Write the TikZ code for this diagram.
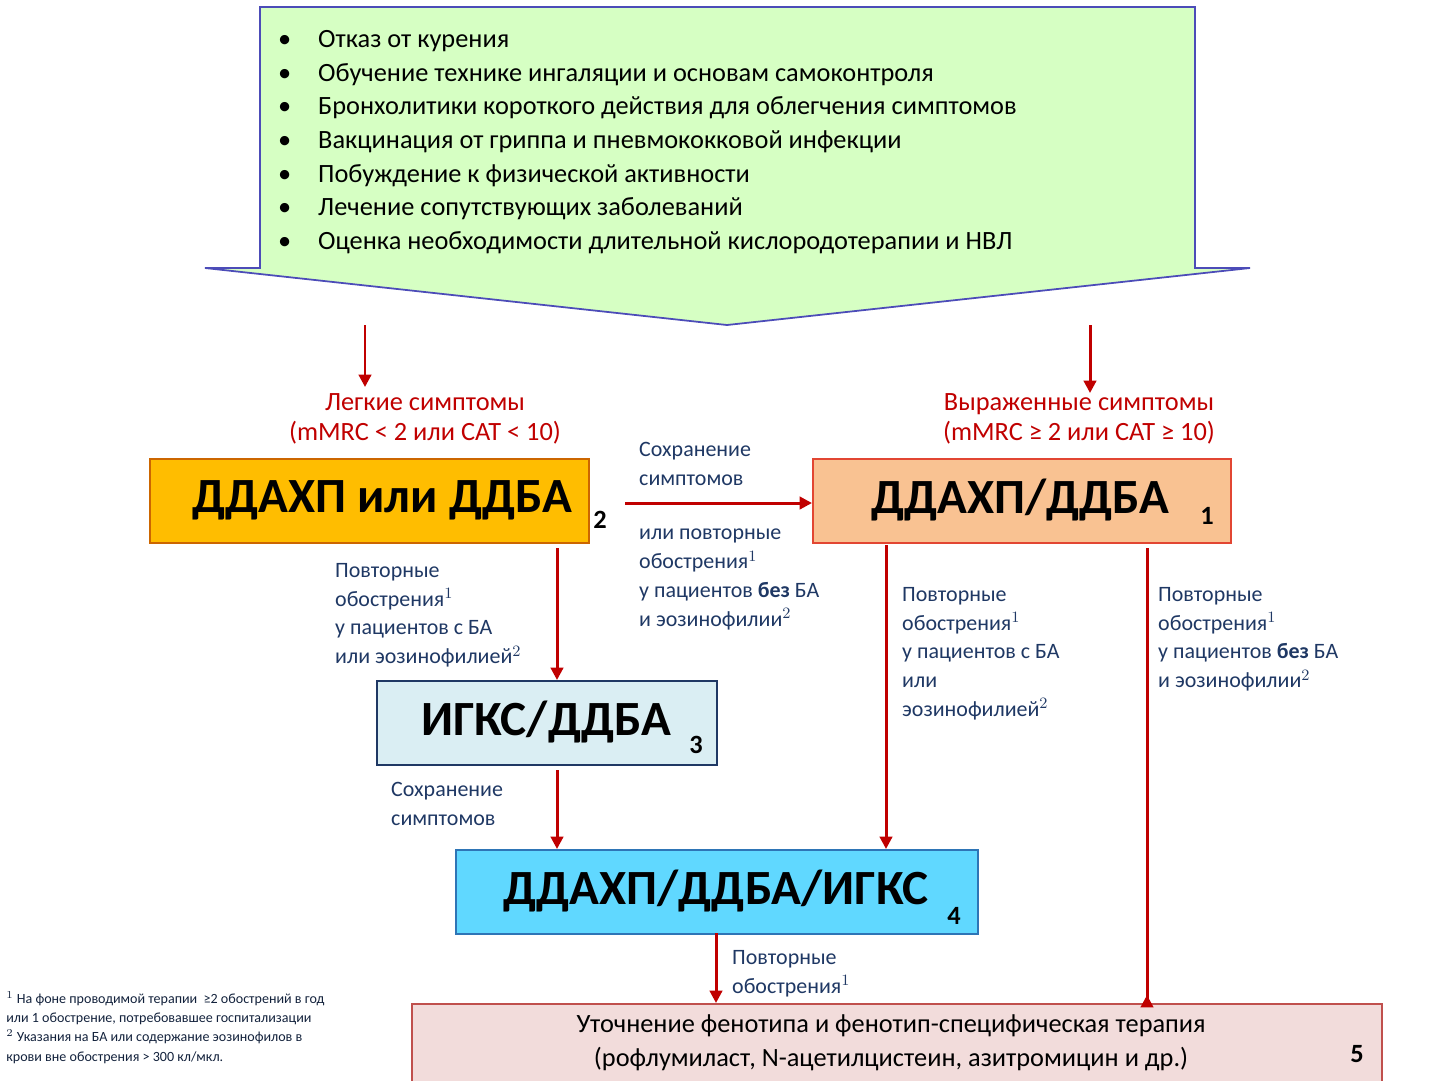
\documentclass[tikz,border=0pt]{standalone}
\usepackage{fontspec}
\setmainfont{Carlito}
\usetikzlibrary{arrows.meta}
\definecolor{arrred}{HTML}{C00000}
\definecolor{txtblue}{HTML}{1F3864}
\begin{document}
\begin{tikzpicture}[x=0.02cm,y=-0.02cm,
    >={Triangle[width=7pt,length=7pt]},
    redarrow/.style={->,draw=arrred,line width=1.7pt},
    box/.style={draw,line width=1pt,inner sep=0pt,anchor=north west},
    boxtext/.style={font=\fontsize{28}{30}\selectfont\bfseries},
    boxnum/.style={font=\fontsize{15}{16}\selectfont\bfseries},
    bullet/.style={anchor=west,font=\fontsize{15}{17}\selectfont},
    redlab/.style={text=arrred,font=\fontsize{15}{17}\selectfont},
    bluelab/.style={text=txtblue,anchor=west,font=\fontsize{12.5}{16.4}\selectfont}]
\useasboundingbox (0,0) rectangle (1436,1080);

% top arrow
\draw[draw=blue!60!black!70,fill=green!15!white!90!lime,line width=1pt]
    (260,7) -- (1195,7) -- (1195,268) -- (1250,268) -- (727,325)
    -- (205,268) -- (260,268) -- cycle;
\foreach \y/\t in {41/Отказ от курения,
    75/Обучение технике ингаляции и основам самоконтроля,
    108/Бронхолитики короткого действия для облегчения симптомов,
    142/Вакцинация от гриппа и пневмококковой инфекции,
    176/Побуждение к физической активности,
    209/Лечение сопутствующих заболеваний,
    243/Оценка необходимости длительной кислородотерапии и НВЛ}
{
    \node[bullet] at (272,\y) {•};
    \node[bullet] at (312,\y) {\t};
}

% boxes
\node[box,fill=orange!40!yellow!80!orange,draw=orange!80!black,
    minimum width=439*0.02cm,minimum height=84*0.02cm] (ddbaA) at (149,458) {};
\node[boxtext] at (382,500) {ДДАХП или ДДБА};
\node[boxnum] at (600,520) {2};

\node[box,fill={rgb,255:red,249;green,194;blue,146},draw={rgb,255:red,226;green,70;blue,50},
    minimum width=418*0.02cm,minimum height=84*0.02cm] (ddbaB) at (812,458) {};
\node[boxtext] at (1020,500) {ДДАХП/ДДБА};
\node[boxnum] at (1207,516) {1};

\node[box,fill={rgb,255:red,218;green,238;blue,243},draw={rgb,255:red,31;green,56;blue,100},
    minimum width=340*0.02cm,minimum height=84*0.02cm] (igks) at (376,680) {};
\node[boxtext] at (546,722) {ИГКС/ДДБА};
\node[boxnum] at (696,745) {3};

\node[box,fill={rgb,255:red,96;green,216;blue,255},draw={rgb,255:red,46;green,117;blue,182},
    minimum width=522*0.02cm,minimum height=84*0.02cm] (triple) at (455,849) {};
\node[boxtext] at (716,891) {ДДАХП/ДДБА/ИГКС};
\node[boxnum] at (954,916) {4};

\node[box,fill={rgb,255:red,242;green,220;blue,219},draw={rgb,255:red,192;green,80;blue,77},
    minimum width=970*0.02cm,minimum height=80*0.02cm] (pheno) at (411,1003) {};
\node[font=\fontsize{15}{19.5}\selectfont,align=center] at (891,1043)
    {Уточнение фенотипа и фенотип-специфическая терапия\\(рофлумиласт, N-ацетилцистеин, азитромицин и др.)};
\node[boxnum] at (1357,1054) {5};

% red labels
\node[redlab,align=center] at (425,419) {Легкие симптомы\\(mMRC < 2 или CAT < 10)};
\node[redlab,align=center] at (1079,419) {Выраженные симптомы\\(mMRC ≥ 2 или CAT ≥ 10)};

% arrows
\coordinate (srcL) at (365,325);
\coordinate (srcR) at (1090,325);
\coordinate (endL) at (365,387);
\coordinate (endR) at (1090,393);
\draw[redarrow] (srcL) -- (endL);
\draw[redarrow] (srcR) -- (endR);
\draw[redarrow] (625,503) -- (ddbaB.west |- 0,503);
\draw[redarrow] (557,548) -- (igks.north -| 557,0);
\draw[redarrow] (557,770) -- (triple.north -| 557,0);
\draw[redarrow] (886,545) -- (triple.north -| 886,0);
\draw[redarrow] (1147,548) -- (pheno.north -| 1147,0) ++(0,-8);
\draw[redarrow] (716,933) -- (pheno.north -| 716,0);

% blue labels
\node[bluelab,align=left,anchor=north west] at (633,436) {Сохранение\\симптомов};
\node[bluelab,align=left,anchor=north west] at (633,523)
    {или повторные\\обострения$^1$\\у пациентов \textbf{без} БА\\и эозинофилии$^2$};
\node[bluelab,align=left,anchor=north west] at (329,557)
    {Повторные\\обострения$^1$\\у пациентов с БА\\или эозинофилией$^2$};
\node[bluelab,align=left,anchor=north west] at (385,776) {Сохранение\\симптомов};
\node[bluelab,align=left,anchor=north west] at (896,581)
    {Повторные\\обострения$^1$\\у пациентов с БА\\или\\эозинофилией$^2$};
\node[bluelab,align=left,anchor=north west] at (1152,581)
    {Повторные\\обострения$^1$\\у пациентов \textbf{без} БА\\и эозинофилии$^2$};
\node[bluelab,align=left,anchor=north west] at (726,944) {Повторные\\обострения$^1$};

% footnote
\node[anchor=north west,align=left,inner sep=0pt,font=\fontsize{8}{11}\selectfont,text=txtblue!60!black]
    at (6,991) {$^1$ На фоне проводимой терапии\ \ ≥2 обострений в год\\или 1 обострение, потребовавшее госпитализации\\$^2$ Указания на БА или содержание эозинофилов в\\крови вне обострения > 300 кл/мкл.};
\end{tikzpicture}
\end{document}
